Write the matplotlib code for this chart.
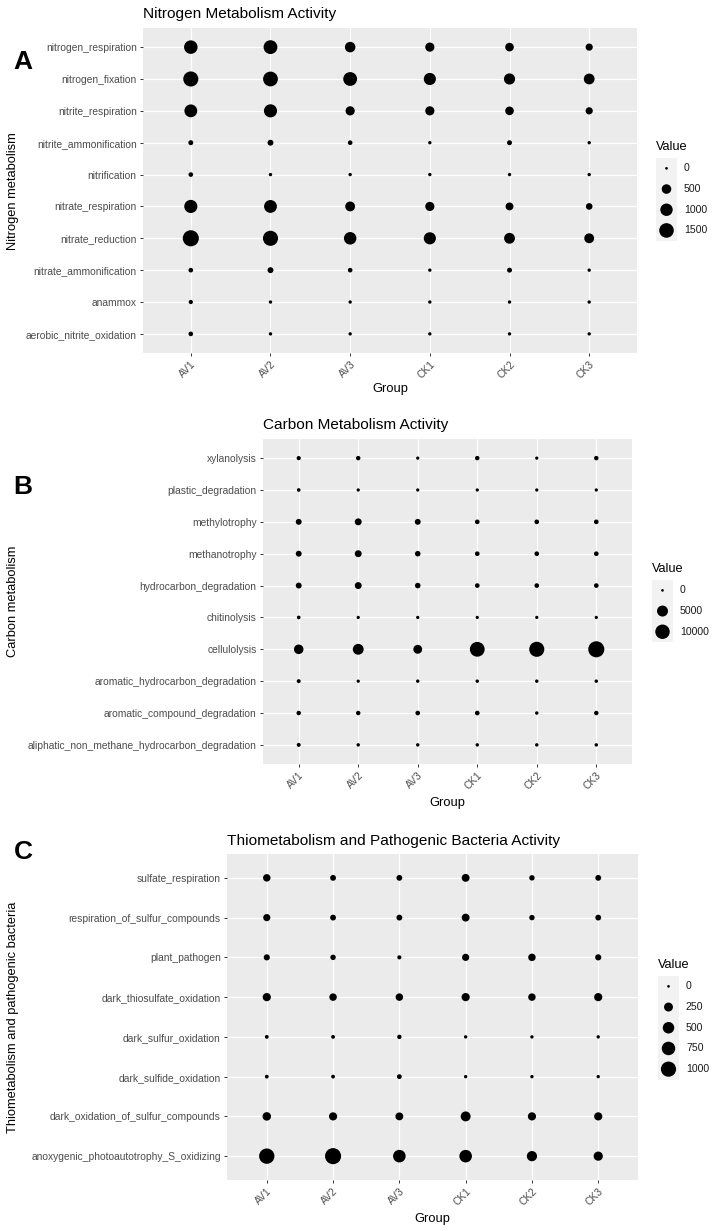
import numpy as np
import matplotlib
matplotlib.use('Agg')
import matplotlib.pyplot as plt
from matplotlib.patches import Rectangle

plt.rcParams['font.family'] = ['Liberation Sans', 'DejaVu Sans']

groups = ['AV1', 'AV2', 'AV3', 'CK1', 'CK2', 'CK3']

# rows are listed bottom -> top (alphabetical, like the factor levels)
nitrogen_funcs = ['aerobic_nitrite_oxidation', 'anammox', 'nitrate_ammonification',
                  'nitrate_reduction', 'nitrate_respiration', 'nitrification',
                  'nitrite_ammonification', 'nitrite_respiration', 'nitrogen_fixation',
                  'nitrogen_respiration']
nitrogen_vals = [
    [40, 5, 5, 5, 5, 5],
    [25, 5, 5, 5, 5, 5],
    [40, 110, 40, 5, 55, 5],
    [1900, 1630, 1020, 945, 705, 545],
    [1150, 1090, 545, 445, 285, 165],
    [40, 5, 5, 5, 5, 5],
    [55, 110, 40, 5, 55, 5],
    [1090, 1150, 445, 445, 370, 215],
    [1630, 1550, 1310, 945, 760, 700],
    [1240, 1310, 650, 445, 370, 215],
]
nitrogen_breaks = [0, 500, 1000, 1500]

carbon_funcs = ['aliphatic_non_methane_hydrocarbon_degradation', 'aromatic_compound_degradation',
                'aromatic_hydrocarbon_degradation', 'cellulolysis', 'chitinolysis',
                'hydrocarbon_degradation', 'methanotrophy', 'methylotrophy',
                'plastic_degradation', 'xylanolysis']
carbon_vals = [
    [115, 42, 42, 42, 42, 42],
    [223, 223, 277, 277, 42, 223],
    [115, 23, 42, 42, 42, 42],
    [3420, 4820, 2770, 10600, 11130, 13000],
    [68, 23, 23, 23, 23, 23],
    [755, 1290, 600, 277, 277, 277],
    [755, 1290, 600, 277, 277, 277],
    [755, 1290, 755, 277, 277, 277],
    [68, 23, 23, 23, 23, 23],
    [160, 223, 23, 223, 23, 223],
]
carbon_breaks = [0, 5000, 10000]

thio_funcs = ['anoxygenic_photoautotrophy_S_oxidizing', 'dark_oxidation_of_sulfur_compounds',
              'dark_sulfide_oxidation', 'dark_sulfur_oxidation', 'dark_thiosulfate_oxidation',
              'plant_pathogen', 'respiration_of_sulfur_compounds', 'sulfate_respiration']
thio_vals = [
    [1027, 1150, 628, 628, 365, 273],
    [217, 194, 173, 335, 194, 194],
    [8, 8, 29, 3, 3, 3],
    [8, 8, 19, 3, 3, 3],
    [194, 147, 147, 194, 147, 194],
    [77, 48, 13, 128, 147, 77],
    [128, 64, 64, 173, 48, 64],
    [147, 64, 64, 173, 48, 64],
]
thio_breaks = [0, 250, 500, 750, 1000]

W, H = 720, 1231
K = 2.68  # px per ggplot size unit


def dot_size(v, vmax):
    # ggplot area scale, range 1..6
    d = K * (1 + 5 * np.sqrt(np.asarray(v, dtype=float) / vmax))
    return (d * 0.72) ** 2


fig = plt.figure(figsize=(W / 100, H / 100), dpi=100)
ov = fig.add_axes([0, 0, 1, 1])
ov.set_xlim(0, W)
ov.set_ylim(H, 0)
ov.axis('off')


def panel(box, funcs, vals, vmax):
    l, t, r, b = box
    ax = fig.add_axes([l / W, 1 - b / H, (r - l) / W, (b - t) / H])
    ax.set_facecolor('#EBEBEB')
    vals = np.array(vals)
    gx, gy = np.meshgrid(np.arange(len(groups)), np.arange(len(funcs)))
    ax.scatter(gx.ravel(), gy.ravel(), s=dot_size(vals.ravel(), vmax),
               color='black', linewidths=0, zorder=3)
    ax.set_xlim(-0.6, len(groups) - 0.4)
    ax.set_ylim(-0.6, len(funcs) - 0.4)
    ax.set_xticks(range(len(groups)))
    ax.set_xticklabels(groups, rotation=45, ha='right', va='top', rotation_mode='anchor')
    ax.set_yticks(range(len(funcs)))
    ax.set_yticklabels(funcs)
    ax.grid(True, color='white', linewidth=0.9)
    ax.set_axisbelow(True)
    for s in ax.spines.values():
        s.set_visible(False)
    ax.tick_params(length=2.5, width=0.7, color='#333333', labelcolor='#4D4D4D',
                   labelsize=7.4, pad=2)
    return ax


def legend(x, y_title, breaks, vmax):
    ov.text(x, y_title, 'Value', fontsize=9.2, ha='left', va='center')
    top = y_title + 11
    kh = 20.7
    ov.add_patch(Rectangle((x, top), 21, kh * len(breaks), facecolor='#F2F2F2',
                           edgecolor='none'))
    ys = top + kh * (np.arange(len(breaks)) + 0.5)
    ov.scatter(np.full(len(breaks), x + 10.5), ys, s=dot_size(breaks, vmax),
               color='black', linewidths=0)
    for b, yy in zip(breaks, ys):
        ov.text(x + 28, yy, str(b), fontsize=7.6, ha='left', va='center', color='#1A1A1A')


# A
panel((143, 28, 637, 353), nitrogen_funcs, nitrogen_vals, 1900)
ov.text(143, 14, 'Nitrogen Metabolism Activity', fontsize=11.1, va='center')
ov.text(13, 191, 'Nitrogen metabolism', fontsize=9.3, rotation=90, ha='center', va='center')
ov.text(390, 389, 'Group', fontsize=9.3, ha='center', va='center')
ov.text(23, 62, 'A', fontsize=19, fontweight='bold', ha='center', va='center')
legend(656, 147, nitrogen_breaks, 1900)

# B
panel((263, 439, 632, 764), carbon_funcs, carbon_vals, 13000)
ov.text(263, 425, 'Carbon Metabolism Activity', fontsize=11.1, va='center')
ov.text(13, 601, 'Carbon metabolism', fontsize=9.3, rotation=90, ha='center', va='center')
ov.text(447, 803, 'Group', fontsize=9.3, ha='center', va='center')
ov.text(23, 487, 'B', fontsize=19, fontweight='bold', ha='center', va='center')
legend(652, 569, carbon_breaks, 13000)

# C
panel((227, 854, 638, 1180), thio_funcs, thio_vals, 1150)
ov.text(227, 841, 'Thiometabolism and Pathogenic Bacteria Activity', fontsize=11.1, va='center')
ov.text(13, 1017, 'Thiometabolism and pathogenic bacteria', fontsize=9.3, rotation=90,
        ha='center', va='center')
ov.text(432, 1219, 'Group', fontsize=9.3, ha='center', va='center')
ov.text(23, 852, 'C', fontsize=19, fontweight='bold', ha='center', va='center')
legend(658, 965, thio_breaks, 1150)

plt.savefig('out.png', dpi=100)
